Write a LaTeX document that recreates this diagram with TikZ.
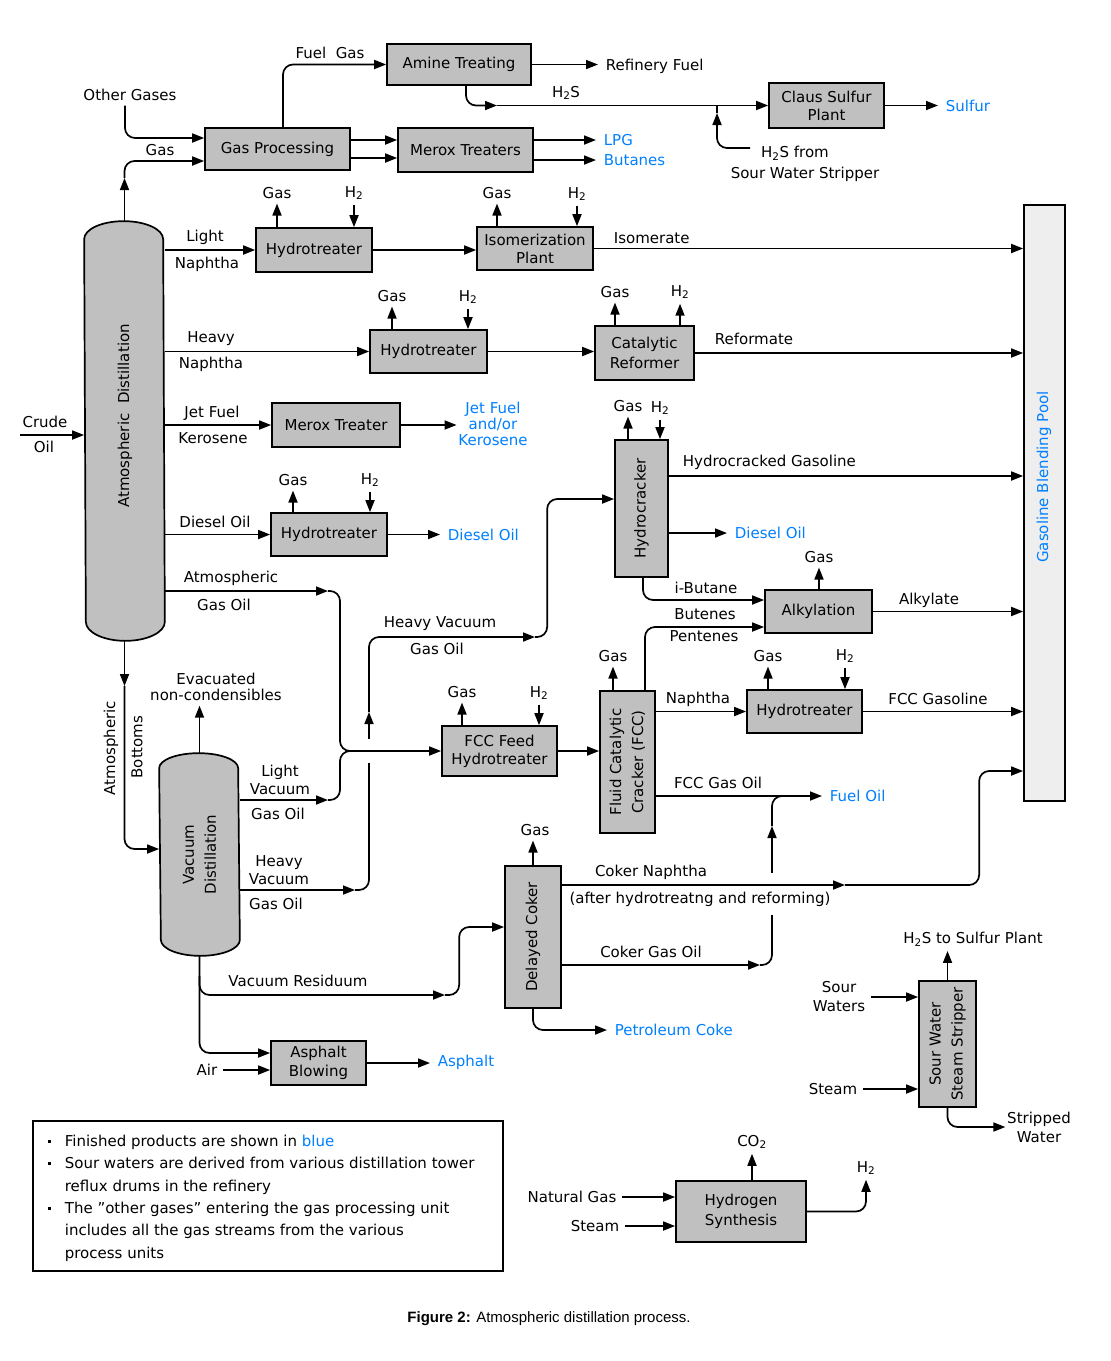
\documentclass[tikz,border=0pt]{standalone}
\usepackage{fontspec}
\setmainfont{DejaVu Sans}
\newfontfamily\capfont{Liberation Sans}
\usetikzlibrary{arrows.meta,positioning,calc}
\definecolor{boxgray}{HTML}{C0C0C0}
\definecolor{poolgray}{HTML}{EEEEEE}
\definecolor{prodblue}{HTML}{0080FF}
\newcommand{\htwo}{H\textsubscript{2}}
\newcommand{\htwos}{H\textsubscript{2}S}
\newcommand{\legbullet}{\raisebox{3.5pt}{\rule{3pt}{3pt}}\hspace{14pt}}

\begin{document}
\begin{tikzpicture}[x=1pt, y=-1pt,
  font=\fontsize{15}{18}\selectfont,
  line width=1.7pt,
  box/.style={draw, fill=boxgray, align=center, inner sep=1pt},
  lbl/.style={align=center, inner sep=1pt, font=\fontsize{15}{16}\selectfont},
  srclbl/.style={lbl, inner xsep=5pt},
  stubtxt/.style={lbl, inner ysep=4pt},
  vlbl/.style={rotate=90, align=center, inner sep=1pt, font=\fontsize{15}{22}\selectfont},
  prod/.style={text=prodblue, anchor=west, inner xsep=7pt},
  arr/.style={-{Triangle[length=12pt, width=9pt]}},
  elbow/.style={rounded corners=10pt},
]
  \path[use as bounding box, fill=white] (0,0) rectangle (1111,1361);

  % Columns
  \node[minimum width=79pt, minimum height=418pt, inner sep=0pt] (atm) at (124.5,431) {};
  \node[minimum width=79pt, minimum height=201pt, inner sep=0pt] (vac) at (199.5,854.5) {};
  \draw[fill=boxgray] ($(atm.north west)+(0,18)$) arc[start angle=180, end angle=0, x radius=39.5pt, y radius=18pt]
    -- ($(atm.south east)+(0,-19)$) arc[start angle=0, end angle=-180, x radius=39.5pt, y radius=19pt] -- cycle;
  \draw[fill=boxgray] ($(vac.north west)+(0,15)$) arc[start angle=180, end angle=0, x radius=39.5pt, y radius=15pt]
    -- ($(vac.south east)+(0,-16)$) arc[start angle=0, end angle=-180, x radius=39.5pt, y radius=16pt] -- cycle;
  \node[vlbl] (atmtxt) at (125,416) {Atmospheric\ \ Distillation};
  \node[vlbl] (vactxt) at (vac) {Vacuum\\Distillation};

  % Units
  \node[box, minimum width=144pt, minimum height=41pt] (amine) at (459,64.5) {Amine Treating};
  \node[box, minimum width=145pt, minimum height=42pt] (gasproc) at (277.5,149) {Gas Processing};
  \node[box, minimum width=135pt, minimum height=44pt] (merox) at (465.5,150) {Merox Treaters};
  \node[box, minimum width=115pt, minimum height=45pt] (claus) at (826.5,105.5) {Claus Sulfur\\Plant};
  \node[box, minimum width=116pt, minimum height=44pt] (htA) at (314,250) {Hydrotreater};
  \node[box, minimum width=116pt, minimum height=43pt] (iso) at (535,248.5) {Isomerization\\Plant};
  \node[box, minimum width=117pt, minimum height=43pt] (htB) at (428.5,351.5) {Hydrotreater};
  \node[box, minimum width=99pt, minimum height=54pt, font=\fontsize{15}{20}\selectfont] (reformer) at (644.5,353) {Catalytic\\Reformer};
  \node[box, minimum width=128pt, minimum height=44pt] (meroxjet) at (336,425) {Merox Treater};
  \node[box, minimum width=116pt, minimum height=43pt] (htC) at (329,534.5) {Hydrotreater};
  \node[box, minimum width=53pt, minimum height=137pt] (hcrack) at (641.5,508.5) {};
  \node[box, minimum width=107pt, minimum height=43pt] (alky) at (818.5,611.5) {Alkylation};
  \node[box, minimum width=115pt, minimum height=43pt] (htD) at (804.5,711.5) {Hydrotreater};
  \node[box, minimum width=115pt, minimum height=50pt] (fccfeed) at (499.5,751) {FCC Feed\\Hydrotreater};
  \node[box, minimum width=55pt, minimum height=142pt] (fcc) at (627.5,762) {};
  \node[box, minimum width=56pt, minimum height=142pt] (coker) at (533,937) {};
  \node[box, minimum width=95pt, minimum height=44pt, font=\fontsize{15}{19}\selectfont] (asphalt) at (318.5,1063) {Asphalt\\Blowing};
  \node[box, minimum width=57pt, minimum height=126pt] (sws) at (947.5,1044) {};
  \node[box, minimum width=130pt, minimum height=61pt, font=\fontsize{15}{20}\selectfont] (h2syn) at (741,1211.5) {Hydrogen\\Synthesis};
  \node[draw, fill=poolgray, minimum width=41pt, minimum height=596pt, inner sep=0pt] (pool) at (1044.5,503) {};

  \node[vlbl] (hcracktxt) at (hcrack) {Hydrocracker};
  \node[vlbl] (fcctxt) at (fcc) {Fluid Catalytic\\Cracker (FCC)};
  \node[vlbl] (cokertxt) at (coker) {Delayed Coker};
  \node[vlbl] (swstxt) at (sws) {Sour Water\\Steam Stripper};
  \node[vlbl, text=prodblue] (pooltxt) at (1044,477) {Gasoline Blending Pool};

  % Stream labels
  \node[lbl] (crudelbl) at (45,422) {Crude};
  \node[lbl] (oillbl) at (44,447) {Oil};
  \node[lbl] (fuelgas) at (330,53) {Fuel\ \ Gas};
  \node[prod, text=black] (refuel) at (598,66) {Refinery Fuel};
  \node[lbl] (othergas) at (130,95) {Other Gases};
  \node[lbl] (gaslbl) at (160,150) {Gas};
  \node[lbl] (h2slbl) at (566,93) {\htwos};
  \node[lbl] (h2sfrom) at (795,153) {\htwos\ from};
  \node[lbl] (swsrc) at (805,174) {Sour Water Stripper};
  \node[prod] (sulfur) at (938,106) {Sulfur};
  \node[prod] (lpg) at (596,140) {LPG};
  \node[prod] (butanes) at (596,160) {Butanes};

  \node[lbl] (lightlbl) at (205,237) {Light};
  \node[lbl] (lnlbl) at (207,264) {Naphtha};
  \node[stubtxt] (gasA) at (277,193) {Gas};
  \node[stubtxt] (hA) at (354,193) {\htwo};
  \node[stubtxt] (gasI) at (497,193) {Gas};
  \node[stubtxt] (hI) at (577,194) {\htwo};
  \node[lbl, anchor=west] (isolbl) at (612,238) {Isomerate};

  \node[lbl] (heavylbl) at (211,339) {Heavy};
  \node[lbl] (hnlbl) at (211,364) {Naphtha};
  \node[stubtxt] (gasB) at (392,296) {Gas};
  \node[stubtxt] (hB) at (468,297) {\htwo};
  \node[stubtxt] (gasR) at (615,292) {Gas};
  \node[stubtxt] (hR) at (680,292) {\htwo};
  \node[lbl, anchor=west] (reflbl) at (713,339) {Reformate};

  \node[lbl] (jetlbl) at (212,413) {Jet Fuel};
  \node[lbl] (kerolbl) at (213,438) {Kerosene};
  \node[lbl, text=prodblue] (jetprod) at (493,424) {Jet Fuel\\and/or\\Kerosene};

  \node[lbl] (diesellbl) at (215,522) {Diesel Oil};
  \node[stubtxt] (gasC) at (293,480) {Gas};
  \node[stubtxt] (hC) at (370,480) {\htwo};
  \node[prod] (dieselprod) at (440,535) {Diesel Oil};

  \node[stubtxt] (gasH) at (628,406) {Gas};
  \node[stubtxt] (hH) at (660,408) {\htwo};
  \node[lbl, anchor=west] (hcglbl) at (681,462) {Hydrocracked Gasoline};
  \node[prod] (hdiesel) at (727,533) {Diesel Oil};

  \node[stubtxt] (gasK) at (819,557) {Gas};
  \node[lbl] (ibutlbl) at (706,588) {i-Butane};
  \node[lbl] (butlbl) at (705,614) {Butenes};
  \node[lbl] (pentlbl) at (704,636) {Pentenes};
  \node[lbl] (alkylbl) at (929,600) {Alkylate};

  \node[lbl] (agolbl) at (231,578) {Atmospheric};
  \node[lbl] (agolbl2) at (224,605) {Gas Oil};
  \node[lbl] (hvgolbl) at (440,624) {Heavy Vacuum};
  \node[lbl] (hvgolbl2) at (437,649) {Gas Oil};

  \node[stubtxt] (gasF) at (462,692) {Gas};
  \node[stubtxt] (hF) at (539,693) {\htwo};
  \node[stubtxt] (gasX) at (613,656) {Gas};
  \node[lbl] (naphlbl) at (698,699) {Naphtha};
  \node[stubtxt] (gasD) at (768,656) {Gas};
  \node[stubtxt] (hD) at (845,656) {\htwo};
  \node[lbl] (fccglbl) at (938,699) {FCC Gasoline};
  \node[lbl] (fccgolbl) at (718,783) {FCC Gas Oil};
  \node[prod] (fueloil) at (822,796) {Fuel Oil};

  \node[vlbl] (ablbl) at (111,748) {Atmospheric};
  \node[vlbl] (ablbl2) at (137,747) {Bottoms};
  \node[stubtxt] (evaclbl) at (216,687) {Evacuated\\non-condensibles};
  \node[lbl, font=\fontsize{15}{18}\selectfont] (lvlbl) at (280,780) {Light\\Vacuum};
  \node[lbl] (lvlbl2) at (278,814) {Gas Oil};
  \node[lbl, font=\fontsize{15}{18}\selectfont] (hvlbl) at (279,870) {Heavy\\Vacuum};
  \node[lbl] (hvlbl2) at (276,904) {Gas Oil};
  \node[lbl] (vrlbl) at (298,981) {Vacuum Residuum};
  \node[srclbl] (airlbl) at (207,1070) {Air};
  \node[prod] (asphprod) at (430,1062) {Asphalt};

  \node[stubtxt] (gasCk) at (535,830) {Gas};
  \node[lbl] (cnlbl) at (651,872) {Coker Naphtha};
  \node[lbl] (cnlbl2) at (700,899) {(after hydrotreatng and reforming)};
  \node[lbl] (cgolbl) at (651,952) {Coker Gas Oil};
  \node[prod] (pcoke) at (607,1030) {Petroleum Coke};

  \node[stubtxt] (h2sto) at (973,939) {\htwos\ to Sulfur Plant};
  \node[srclbl, font=\fontsize{15}{19}\selectfont] (sourlbl) at (839,997) {Sour\\Waters};
  \node[srclbl] (steamlbl) at (833,1089) {Steam};
  \node[lbl, font=\fontsize{15}{19}\selectfont] (stripped) at (1039,1127) {Stripped\\Water};

  \node[stubtxt] (co2lbl) at (752,1142) {CO\textsubscript{2}};
  \node[srclbl] (natgas) at (572,1197) {Natural Gas};
  \node[srclbl] (steamlbl2) at (595,1226) {Steam};
  \node[stubtxt] (h2out) at (866,1168) {\htwo};

  % Coordinates for bends and mid-line arrows
  \coordinate (crude) at (20,435);
  \coordinate (gasup) at (124.5,178);
  \coordinate (h2sarr) at (497,105.5);
  \coordinate (swsin) at (750,148);
  \coordinate (swsup) at (717,113);
  \coordinate (gpA) at ($(gasproc.east)+(0,-9)$);
  \coordinate (gpB) at ($(gasproc.east)+(0,9)$);
  \coordinate (agoarr) at (328,591);
  \coordinate (feedjoin) at (340,751);
  \coordinate (lvgoarr) at (328,800);
  \coordinate (hvgoarr) at (355,890);
  \coordinate (hvgap1) at (369,763);
  \coordinate (hvgap2) at (369,739);
  \coordinate (hvup) at (369,712);
  \coordinate (hvgoarr2) at (535,637);
  \coordinate (hcgas) at ($(hcrack.east)+(0,-32.5)$);
  \coordinate (abarr) at (124.5,686);
  \coordinate (vrarr) at (445,995);
  \coordinate (cnarr) at (845,885);
  \coordinate (cgoarr) at (760,965);
  \coordinate (cgo1) at (772,915);
  \coordinate (cgo2) at (772,873);
  \coordinate (cgo3) at (772,826);

  % Gas plant
  \draw[arr] (crude) -- (crude -| atm.west);
  \draw[arr] (atm.north) -- (gasup);
  \draw[arr, elbow] (gasup) |- ($(gasproc.west)+(0,12)$);
  \draw[arr, elbow] ($(othergas.south)+(-5,3)$) |- ($(gasproc.west)+(0,-11)$);
  \draw[arr, elbow] ($(gasproc.north)+(5.5,0)$) |- (amine.west);
  \draw[arr] (amine.east) -- (amine.east -| refuel.west);
  \draw[arr, elbow] ($(amine.south)+(7,0)$) |- (h2sarr);
  \draw[arr] (h2sarr) -- (claus.west);
  \draw[arr, elbow] (swsin) -| (swsup);
  \draw (swsup) -- (swsup |- claus.west);
  \draw[arr] (claus.east) -- (claus.east -| sulfur.west);
  \draw[arr] (gpA) -- (gpA -| merox.west);
  \draw[arr] (gpB) -- (gpB -| merox.west);
  \draw[arr] (merox.east |- lpg.west) -- (lpg.west);
  \draw[arr] (merox.east |- butanes.west) -- (butanes.west);

  % Naphtha trains
  \draw[arr] (atm.east |- htA.west) -- (htA.west);
  \draw[arr] (gasA.south |- htA.north) -- (gasA.south);
  \draw[arr] (hA.south) -- (hA.south |- htA.north);
  \draw[arr] (htA.east) -- (htA.east -| iso.west);
  \draw[arr] (gasI.south |- iso.north) -- (gasI.south);
  \draw[arr] (hI.south) -- (hI.south |- iso.north);
  \draw[arr] (iso.east) -- (iso.east -| pool.west);
  \draw[arr] (atm.east |- htB.west) -- (htB.west);
  \draw[arr] (gasB.south |- htB.north) -- (gasB.south);
  \draw[arr] (hB.south) -- (hB.south |- htB.north);
  \draw[arr] (htB.east) -- (htB.east -| reformer.west);
  \draw[arr] (gasR.south |- reformer.north) -- (gasR.south);
  \draw[arr] (hR.south |- reformer.north) -- (hR.south);
  \draw[arr] (reformer.east) -- (reformer.east -| pool.west);

  % Jet fuel and diesel
  \draw[arr] (atm.east |- meroxjet.west) -- (meroxjet.west);
  \draw[arr] (meroxjet.east) -- (meroxjet.east -| jetprod.west);
  \draw[arr] (atm.east |- htC.west) -- (htC.west);
  \draw[arr] (gasC.south |- htC.north) -- (gasC.south);
  \draw[arr] (hC.south) -- (hC.south |- htC.north);
  \draw[arr] (htC.east) -- (htC.east -| dieselprod.west);

  % Gas oils
  \draw[arr] (atm.east |- agoarr) -- (agoarr);
  \draw[arr, elbow] (agoarr) -| (feedjoin) -- (fccfeed.west);
  \draw[arr] (vac.east |- lvgoarr) -- (lvgoarr);
  \draw[elbow] (lvgoarr) -| (feedjoin) -- ++(12,0);
  \draw[arr] (vac.east |- hvgoarr) -- (hvgoarr);
  \draw[elbow] (hvgoarr) -| (hvgap1);
  \draw[arr] (hvgap2) -- (hvup);
  \draw[arr, elbow] (hvup) |- (hvgoarr2);
  \draw[arr, elbow] (hvgoarr2) -| ($(hcrack.west)+(-67,-9.5)$) -- ($(hcrack.west)+(0,-9.5)$);

  % Hydrocracker and alkylation
  \draw[arr] (gasH.south |- hcrack.north) -- (gasH.south);
  \draw[arr] (hH.south) -- (hH.south |- hcrack.north);
  \draw[arr] (hcgas) -- (hcgas -| pool.west);
  \draw[arr] (hcrack.east |- hdiesel.west) -- (hdiesel.west);
  \draw[arr, elbow] ($(hcrack.south)+(1.5,0)$) |- ($(alky.west)+(0,-11.5)$);
  \draw[arr, elbow] ($(fcc.north)+(17.5,0)$) |- ($(alky.west)+(0,15.5)$);
  \draw[arr] (gasK.south |- alky.north) -- (gasK.south);
  \draw[arr] (alky.east) -- (alky.east -| pool.west);

  % FCC
  \draw[arr] (gasF.south |- fccfeed.north) -- (gasF.south);
  \draw[arr] (hF.south) -- (hF.south |- fccfeed.north);
  \draw[arr] (fccfeed.east) -- (fccfeed.east -| fcc.west);
  \draw[arr] (gasX.south |- fcc.north) -- (gasX.south);
  \draw[arr] (fcc.east |- htD.west) -- (htD.west);
  \draw[arr] (gasD.south |- htD.north) -- (gasD.south);
  \draw[arr] (hD.south) -- (hD.south |- htD.north);
  \draw[arr] (htD.east) -- (htD.east -| pool.west);
  \draw[arr] (fcc.east |- fueloil.west) -- (fueloil.west);

  % Vacuum section
  \draw[arr] (atm.south) -- (abarr);
  \draw[arr, elbow] (abarr) |- ($(vac.west)+(0,-5.5)$);
  \draw[arr] (vac.north) -- (vac.north |- evaclbl.south);
  \draw[arr, elbow] (vac.south) |- ($(asphalt.west)+(0,-10)$);
  \draw[arr, elbow] ($(vac.south)+(0,20)$) |- (vrarr);
  \draw[arr, elbow] (vrarr) -| ($(coker.west)+(-45,-10)$) -- ($(coker.west)+(0,-10)$);
  \draw[arr] (airlbl.east) -- (airlbl.east -| asphalt.west);
  \draw[arr] (asphalt.east) -- (asphalt.east -| asphprod.west);

  % Coker
  \draw[arr] (coker.north) -- (coker.north |- gasCk.south);
  \draw[arr] ($(coker.east)+(0,-52)$) -- (cnarr);
  \draw[arr, elbow] (cnarr) -| ($(pool.west)+(-44,268)$) -- ($(pool.west)+(0,268)$);
  \draw[arr] ($(coker.east)+(0,28)$) -- (cgoarr);
  \draw[elbow] (cgoarr) -| (cgo1);
  \draw[arr] (cgo2) -- (cgo3);
  \draw[elbow] (cgo3) |- ($(cgo3)+(14,-30)$);
  \draw[arr, elbow] (coker.south) |- (pcoke.west);

  % Sour water stripper and hydrogen
  \draw[arr] (sws.north) -- (sws.north |- h2sto.south);
  \draw[arr] (sourlbl.east) -- (sourlbl.east -| sws.west);
  \draw[arr] (steamlbl.east) -- (steamlbl.east -| sws.west);
  \draw[arr, elbow] (sws.south) |- (stripped.west);
  \draw[arr] (h2syn.north -| co2lbl.south) -- (co2lbl.south);
  \draw[arr] (natgas.east) -- (natgas.east -| h2syn.west);
  \draw[arr] (steamlbl2.east) -- (steamlbl2.east -| h2syn.west);
  \draw[arr, elbow] (h2syn.east) -| (h2out.south);

  % Notes
  \node[draw, minimum width=470pt, minimum height=150pt, inner sep=0pt] (legend) at (268,1196) {};
  \node[anchor=north west, align=left, inner sep=0pt, font=\fontsize{15}{22.4}\selectfont] (legtxt) at (47,1134)
    {\legbullet Finished products are shown in \textcolor{prodblue}{blue}\\
     \legbullet Sour waters are derived from various distillation tower\\
     \phantom{\legbullet}reflux drums in the refinery\\
     \legbullet The \symbol{34}other gases\symbol{34} entering the gas processing unit\\
     \phantom{\legbullet}includes all the gas streams from the various\\
     \phantom{\legbullet}process units};
  \node[font=\capfont\fontsize{15}{17}\selectfont] (caption) at (549,1319) {\textbf{Figure 2:} Atmospheric distillation process.};
\end{tikzpicture}
\end{document}
